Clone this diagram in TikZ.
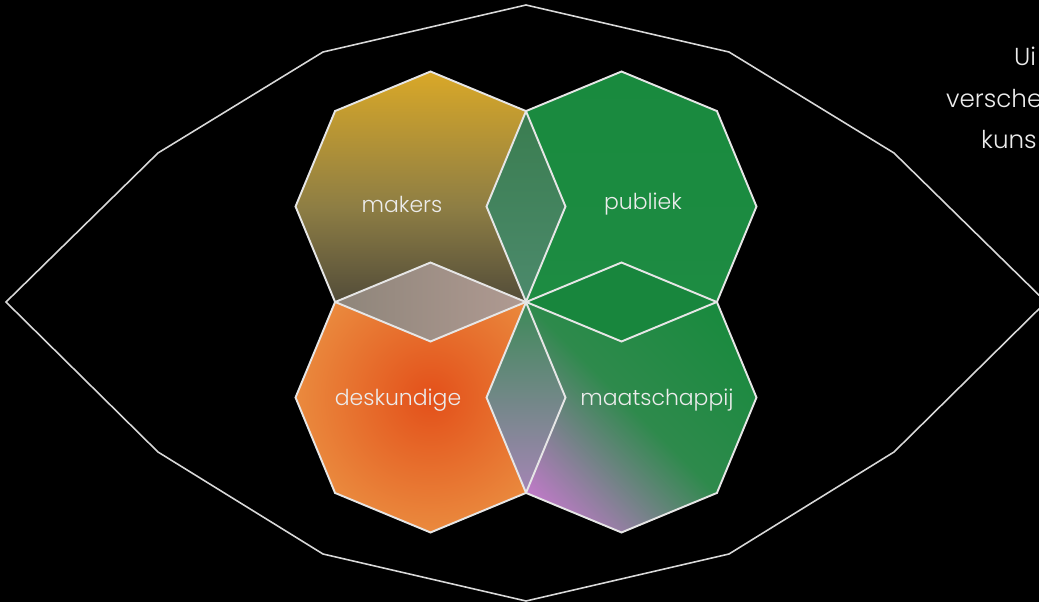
\documentclass[tikz,border=0pt]{standalone}
\usepackage{fontspec}
\setmainfont{Poppins}[UprightFont={* Light}]
\usetikzlibrary{shapes.geometric}
\usepackage{xcolor}

\definecolor{linegray}{HTML}{E6E6E6}
\definecolor{rimgray}{HTML}{D8D8D8}
\definecolor{labelgray}{HTML}{ECECEC}
\definecolor{gold}{HTML}{D9A828}
\definecolor{mud}{HTML}{8E7E44}
\definecolor{slate}{HTML}{3A3835}
\definecolor{leaf}{HTML}{198A3E}
\definecolor{leafb}{HTML}{1E8C43}
\definecolor{ember}{HTML}{E3501A}
\definecolor{peach}{HTML}{EA8A3E}
\definecolor{lilac}{HTML}{C07AC8}
\definecolor{sage}{HTML}{2E8A4C}
\definecolor{mossa}{HTML}{3A7D50}
\definecolor{mossb}{HTML}{4C8A6C}
\definecolor{ashl}{HTML}{8E857A}
\definecolor{ashr}{HTML}{B09A92}
\definecolor{leafd}{HTML}{18863D}
\definecolor{mixa}{HTML}{3D8A58}
\definecolor{mixb}{HTML}{A585B5}

\begin{document}
\begin{tikzpicture}[x=0.02cm, y=-0.02cm,
    every node/.style={font=\fontsize{12.5}{15}\selectfont, text=labelgray},
    octo/.style={regular polygon, regular polygon sides=8, shape border rotate=22.5,
                 minimum size=5.4cm, inner sep=0pt, outer sep=0pt},
    edge/.style={draw=linegray, line width=1.1pt, line join=miter},
    rim/.style={draw=rimgray, line width=0.9pt, line join=miter},
    side/.style={anchor=base west, font=\fontsize{14}{17}\selectfont}]
  \useasboundingbox (0,0) rectangle (1039,602);
  \fill[black] (0,0) rectangle (1039,602);

  % --- buitenste oog ---
  \draw[rim] (526,5) -- (323,52) -- (158,153) -- (6,302) -- (158,452) -- (323,554)
        -- (526,601) -- (729,554) -- (894,452) -- (1046,302) -- (894,153) -- (729,52) -- cycle;

  % --- vier achthoeken ---
  \node[octo, top color=gold, bottom color=slate, middle color=mud] (mk) at (430.5,206.5) {};
  \node[octo, top color=leaf, bottom color=leafb] (pb) at (621.5,206.5) {};
  \node[octo, inner color=ember, outer color=peach] (dk) at (430.5,397.5) {};
  \node[octo, top color=leaf, bottom color=lilac, middle color=sage, shading angle=-45] (ms) at (621.5,397.5) {};

  % --- overlappende ruiten ---
  \shade[top color=mossa, bottom color=mossb]
        (mk.45) -- (mk.0) -- (mk.-45) -- (pb.180) -- cycle;
  \shade[left color=ashl, right color=ashr]
        (mk.-135) -- (dk.90) -- (mk.-45) -- (mk.-90) -- cycle;
  \fill[leafd]
        (pb.-135) -- (ms.90) -- (pb.-45) -- (pb.-90) -- cycle;
  \shade[top color=mixa, bottom color=mixb]
        (dk.45) -- (dk.0) -- (dk.-45) -- (ms.180) -- cycle;

  % --- randen ---
  \foreach \o in {mk,pb,dk,ms}
    \draw[edge] (\o.90) -- (\o.135) -- (\o.180) -- (\o.225) -- (\o.270)
          -- (\o.315) -- (\o.0) -- (\o.45) -- cycle;

  % --- labels ---
  \node (lmk) at (402,204) {makers};
  \node (lpb) at (643,204) {publiek};
  \node (ldk) at (398,400) {deskundige};
  \node (lms) at (657,400) {maatschappij};

  % --- afgesneden tekst rechtsboven ---
  \node[side] (t1) at (1008,65)  {Ui};
  \node[side] (t2) at (940,107)  {versche};
  \node[side] (t3) at (975,148)  {kuns};
\end{tikzpicture}
\end{document}
